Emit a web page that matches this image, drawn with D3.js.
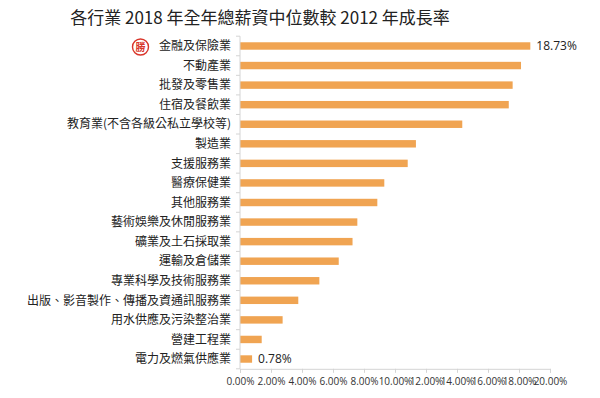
<!DOCTYPE html>
<html>
<head>
<meta charset="utf-8">
<script src="https://cdn.jsdelivr.net/npm/d3@7"></script>
<style>
  body { margin:0; background:#fff; }
  svg { display:block; font-family:"Noto Sans CJK TC","Noto Sans",sans-serif; }
</style>
</head>
<body>
<div id="chart"></div>
<script>
const title = '各行業 2018 年全年總薪資中位數較 2012 年成長率';
const industries = [
  '金融及保險業','不動產業','批發及零售業','住宿及餐飲業','教育業(不含各級公私立學校等)',
  '製造業','支援服務業','醫療保健業','其他服務業','藝術娛樂及休閒服務業',
  '礦業及土石採取業','運輸及倉儲業','專業科學及技術服務業','出版、影音製作、傳播及資通訊服務業',
  '用水供應及污染整治業','營建工程業','電力及燃氣供應業'
];
const growth = [18.73,18.13,17.59,17.34,14.34,11.35,10.82,9.31,8.86,7.57,7.26,6.37,5.12,3.76,2.75,1.40,0.78];
const xTicks = [0,2,4,6,8,10,12,14,16,18,20];
const labelled = {0:'18.73%', 16:'0.78%'};

const W=600, H=398;
const svg = d3.select('#chart').append('svg').attr('width',W).attr('height',H);

const x = d3.scaleLinear().domain([0,20]).range([240,550]);
const y = d3.scaleBand().domain(industries).range([36.2,368.8]).paddingInner(0.62).paddingOuter(0.31);

svg.append('text')
  .attr('x',260).attr('y',24)
  .attr('text-anchor','middle')
  .attr('font-size',17).attr('fill','#222')
  .text(title);

// bars
svg.selectAll('rect.bar').data(growth).join('rect')
  .attr('class','bar')
  .attr('x', x(0))
  .attr('y', (d,i)=>y(industries[i]))
  .attr('width', d=>x(d)-x(0))
  .attr('height', y.bandwidth())
  .attr('fill','#f0a452');

// x axis
const gx = svg.append('g').attr('transform','translate(0,368.8)')
  .call(d3.axisBottom(x).tickValues(xTicks).tickSize(4).tickFormat(d=>d.toFixed(2)+'%'));
gx.select('.domain').attr('stroke','#d4d4d4');
gx.selectAll('.tick line').attr('stroke','#d4d4d4');
gx.selectAll('.tick text').attr('font-size',10).attr('fill','#333').attr('dy','0.9em')
  .attr('font-family','"Open Sans","Noto Sans",sans-serif');

// y axis line + boundary ticks
svg.append('line').attr('x1',x(0)).attr('x2',x(0))
  .attr('y1',y.range()[0]).attr('y2',y.range()[1]).attr('stroke','#d4d4d4');
const bounds = d3.range(industries.length+1).map(i=>y.range()[0]+i*y.step());
svg.selectAll('line.yt').data(bounds).join('line')
  .attr('class','yt')
  .attr('x1',x(0)-4).attr('x2',x(0))
  .attr('y1',d=>d).attr('y2',d=>d)
  .attr('stroke','#d4d4d4');

// category labels
svg.selectAll('text.cat').data(industries).join('text')
  .attr('class','cat')
  .attr('x',231)
  .attr('y',d=>y(d)+y.bandwidth()/2)
  .attr('dy','0.35em')
  .attr('text-anchor','end')
  .attr('font-size',12).attr('fill','#222')
  .text(d=>d);

// value labels
Object.entries(labelled).forEach(([i,t])=>{
  i=+i;
  svg.append('text')
    .attr('x', x(growth[i])+6)
    .attr('y', y(industries[i])+y.bandwidth()/2)
    .attr('dy','0.35em')
    .attr('font-size',12).attr('fill','#222')
    .attr('font-family','"Open Sans","Noto Sans",sans-serif')
    .text(t);
});

// badge
const cy0 = y(industries[0])+y.bandwidth()/2;
const badge = svg.append('g').attr('transform',`translate(140.5,${cy0+1})`);
badge.append('circle').attr('r',8).attr('fill','#fff').attr('stroke','#d9362b').attr('stroke-width',1.4);
badge.append('text').attr('text-anchor','middle').attr('dy','0.36em')
  .attr('font-size',10).attr('font-weight',700).attr('fill','#d9362b').text('勝');
</script>
</body>
</html>
